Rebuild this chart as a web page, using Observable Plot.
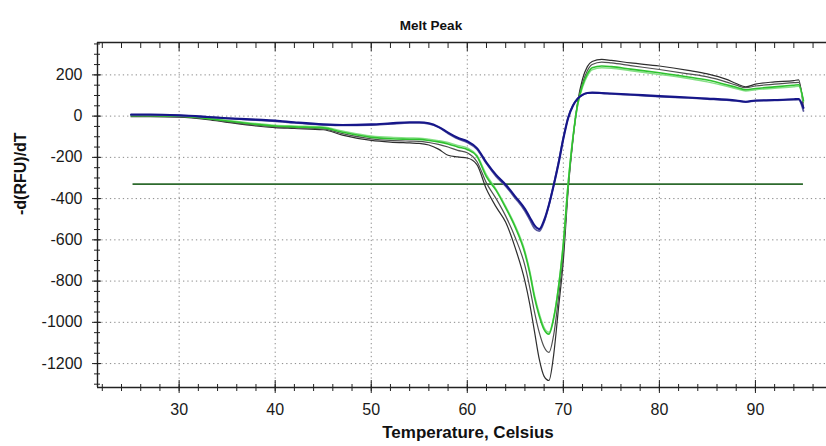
<!DOCTYPE html>
<html><head><meta charset="utf-8">
<script src="https://cdn.jsdelivr.net/npm/d3@7"></script>
<script src="https://cdn.jsdelivr.net/npm/@observablehq/plot@0.6"></script>
<style>
body{margin:0;background:#fff;font-family:"Liberation Sans",Arial,sans-serif;}
#title{position:relative;width:826px;height:34px;}
#title span{position:absolute;left:431px;top:18px;transform:translateX(-50%);font-size:13.5px;font-weight:bold;color:#111;white-space:nowrap;}
</style></head><body>
<div id="title"><span>Melt Peak</span></div>
<div id="chart"></div>
<script>
const temps = [25,27,30,33,35,38,40,42,45,47, 50,52,54,55,56,57,58,59,60,61, 62,63,64,65,66,66.5,67,67.5,68,68.5, 69,69.5,70,70.5,71,71.5,72,72.5,73,74, 75,77,80,83,85,87,88,89,90,92, 94,94.5,95];

const greyOuter = [-3,-3,-5,-17,-30,-48,-56,-60,-66,-92, -118,-126,-130,-132,-140,-160,-190,-198,-203,-235, -355,-440,-515,-640,-800,-910,-1045,-1180,-1262,-1282, -1155,-930,-700,-360,-115,70,180,240,265,275, 270,258,243,222,205,178,158,142,155,166, 172,176,40];
const greyInner = [0,0,-2,-14,-27,-44,-52,-56,-62,-85, -110,-118,-121,-122,-128,-137,-150,-166,-178,-220, -325,-400,-485,-590,-725,-830,-950,-1050,-1120,-1146, -1060,-880,-660,-345,-110,62,160,220,250,262, 258,245,226,205,190,165,150,138,146,155, 162,164,65];
const lightGreen = [6,5,2,-9,-20,-36,-44,-48,-53,-72, -96,-103,-106,-107,-112,-119,-128,-142,-154,-190, -285,-355,-438,-532,-655,-750,-868,-958,-1025,-1048, -975,-825,-615,-325,-100,55,140,195,225,234, 232,220,202,182,166,145,133,122,128,135, 142,145,70];
const green = [2,2,0,-12,-24,-40,-48,-52,-57,-78, -103,-110,-112,-113,-118,-125,-135,-150,-162,-195, -295,-360,-445,-540,-665,-760,-880,-970,-1035,-1057, -980,-830,-620,-330,-105,60,150,205,235,243, 240,228,210,190,175,152,140,128,134,142, 150,152,75];
const blueB = [6,6,3,-5,-11,-19,-25,-33,-42,-45, -43,-38,-33,-33,-38,-54,-84,-110,-128,-160, -230,-292,-340,-398,-460,-502,-545,-558,-512,-432, -332,-225,-105,-5,52,86,104,112,113,111, 108,103,95,88,83,78,74,68,74,76, 80,80,25];
const blueA = [8,8,4,-4,-10,-17,-22,-30,-40,-43, -40,-35,-30,-30,-35,-52,-80,-105,-122,-155, -225,-285,-333,-390,-450,-490,-530,-548,-505,-430, -335,-230,-110,-10,50,85,103,112,114,112, 110,105,97,90,85,80,76,70,76,78, 82,83,40];

const thresholdValue = -330;
const thresholdRange = [25.2, 95];

const xDomain = [21.5, 97.4];
const yDomain = [-1316, 357];
const xLabelTicks = [30,40,50,60,70,80,90];
const xMinorTicks = d3.range(22, 97, 2);
const yLabelTicks = [-1200,-1000,-800,-600,-400,-200,0,200];
const yMinorTicks = d3.range(-1300, 351, 50);

const series = [
  {values: greyOuter, color: "#2e2e2e", width: 1.2},
  {values: greyInner, color: "#505050", width: 1.2},
  {values: lightGreen, color: "#86e086", width: 1.5},
  {values: green, color: "#2fc22f", width: 1.6},
  {values: blueB, color: "#5a5a9e", width: 1.8},
  {values: blueA, color: "#16168a", width: 2.1}
];

const dotted = {stroke: "#8a8a8a", strokeOpacity: 1, strokeDasharray: "1.3,3"};
const empty = () => "";

const chart = Plot.plot({
  width: 826, height: 412,
  marginLeft: 97, marginRight: 0, marginTop: 8, marginBottom: 59,
  style: {fontFamily: "'Liberation Sans', Arial, sans-serif", fontSize: "16px", color: "#1a1a1a", background: "#fff"},
  x: {domain: xDomain},
  y: {domain: yDomain},
  marks: [
    Plot.gridX(xLabelTicks, dotted),
    Plot.gridY(yLabelTicks, dotted),
    Plot.ruleY([thresholdValue], {x1: thresholdRange[0], x2: thresholdRange[1], stroke: "#2d6a2d", strokeWidth: 1.8}),
    ...series.map(s => Plot.line(temps, {x: d => d, y: (d, i) => s.values[i], stroke: s.color, strokeWidth: s.width, curve: "monotone-x"})),
    Plot.ruleY([yDomain[1]], {stroke: "#222", strokeWidth: 1.4}),
    Plot.ruleY([yDomain[0]], {stroke: "#222", strokeWidth: 1.4}),
    Plot.ruleX([xDomain[0]], {stroke: "#222", strokeWidth: 1.4}),
    Plot.axisY(yMinorTicks, {tickSize: 6, dx: 3, tickFormat: empty, label: null, stroke: "#222"}),
    Plot.axisY(yLabelTicks, {tickSize: 9, dx: 4, tickFormat: empty, label: null, stroke: "#222"}),
    Plot.axisY(yLabelTicks, {tickSize: 0, tickPadding: 15, tickFormat: d => String(d), label: null, fontSize: 16, fill: "#1a1a1a"}),
    Plot.axisX(xMinorTicks, {tickSize: 7, dy: -3, tickFormat: empty, label: null, stroke: "#222"}),
    Plot.axisX(xLabelTicks, {tickSize: 13, dy: -7, tickFormat: empty, label: null, stroke: "#222"}),
    Plot.axisX(xLabelTicks, {tickSize: 0, tickPadding: 16, tickFormat: d => String(d), label: null, fontSize: 16, fill: "#1a1a1a"}),
    Plot.axisX(xMinorTicks, {anchor: "top", tickSize: 5, dy: 5, tickFormat: empty, label: null, stroke: "#222"}),
    Plot.axisX(xLabelTicks, {anchor: "top", tickSize: 8, dy: 8, tickFormat: empty, label: null, stroke: "#222"}),
    Plot.text(["-d(RFU)/dT"], {text: d => d, frameAnchor: "left", dx: -77, rotate: -90, fontSize: 16, fontWeight: "bold", fill: "#111"}),
    Plot.text(["Temperature, Celsius"], {text: d => d, frameAnchor: "bottom", dx: 6, dy: 50, fontSize: 17, fontWeight: "bold", fill: "#111"})
  ]
});
document.getElementById("chart").appendChild(chart);
</script>
</body></html>
